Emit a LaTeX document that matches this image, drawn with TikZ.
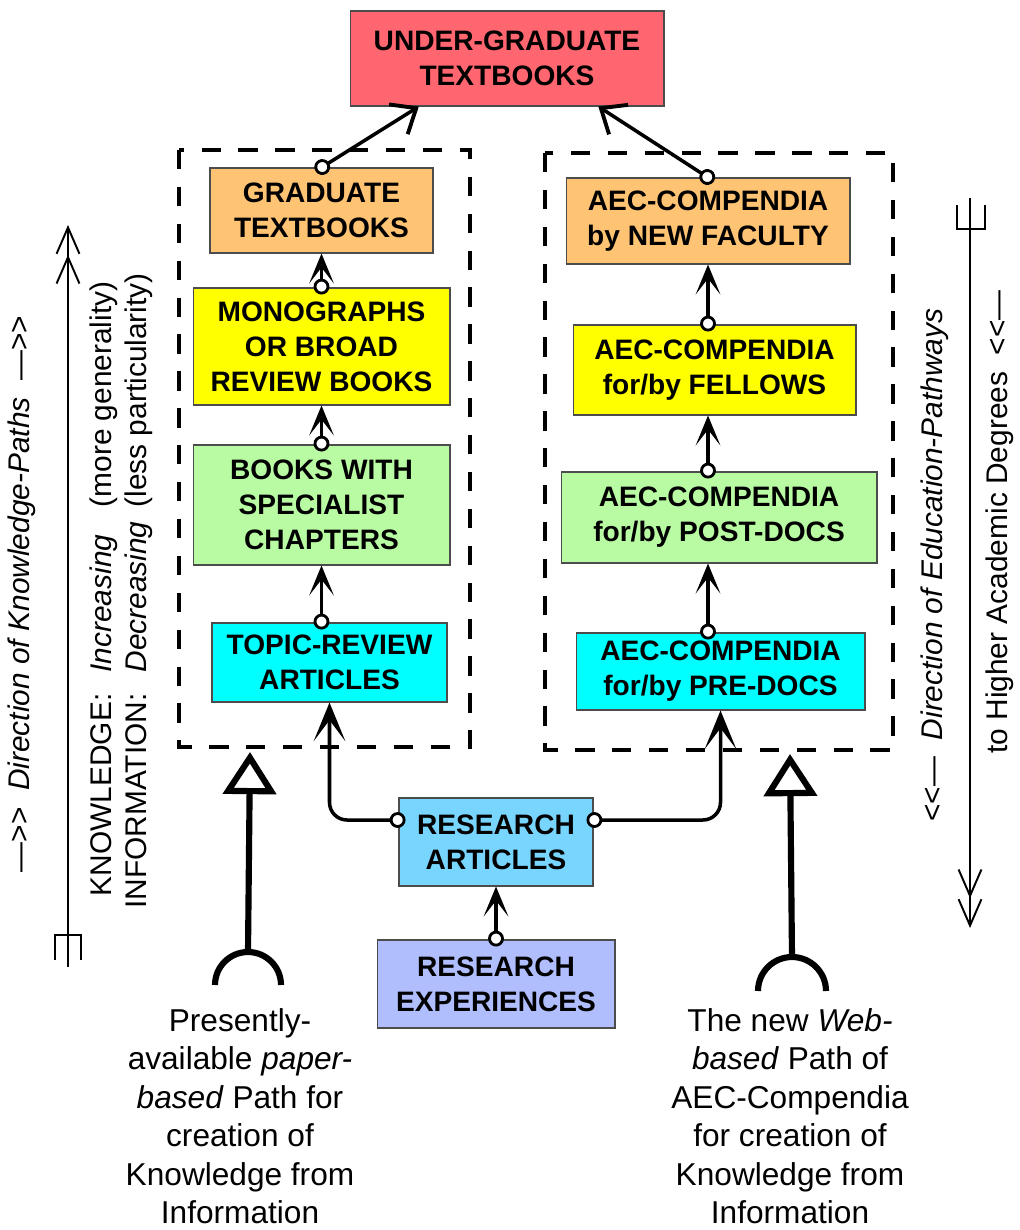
\documentclass[tikz,border=0pt]{standalone}
\usepackage{fontspec}
\setmainfont{Liberation Sans}
\usetikzlibrary{arrows.meta,calc}
\definecolor{ugred}{HTML}{FF6670}
\definecolor{gradorange}{HTML}{FFC374}
\definecolor{monoyellow}{HTML}{FFFF00}
\definecolor{specgreen}{HTML}{B9FBA2}
\definecolor{topiccyan}{HTML}{00FFFF}
\definecolor{articleblue}{HTML}{78D5FE}
\definecolor{experlilac}{HTML}{B0BEFE}
\tikzset{ring/.tip = {Circle[open, fill=white, length=9pt, width=9pt, line width=1.6pt]}}

\begin{document}
\begin{tikzpicture}[x=0.02cm, y=-0.02cm,
    box/.style = {draw=black!70, line width=0.6pt, align=center, inner sep=0pt,
      font=\fontsize{16}{20}\selectfont\bfseries},
    link/.style = {line width=2pt, shorten <=-4pt,
      ring-{Stealth[length=17pt, width=14pt, inset=9pt]}},
    uplink/.style = {line width=2pt, shorten <=-4pt,
      ring-{Straight Barb[length=12pt, width=20pt, line width=2.2pt]}},
    biglink/.style = {line width=2pt, shorten <=-4pt, rounded corners=10,
      ring-{Stealth[length=22pt, width=18pt, inset=12pt]}},
    frame/.style = {line width=2.3pt, dash pattern=on 11pt off 10pt},
    feed/.style = {line width=3.5pt, -{Triangle[open, length=24pt, width=30pt]}},
    socket/.style = {line width=3.5pt},
    axis/.style = {line width=1.1pt},
    twobarb/.style = {-{Straight Barb[length=15pt, width=13pt] Straight Barb[length=15pt, width=13pt]}},
    side/.style = {font=\fontsize{17}{20}\selectfont, inner sep=0pt},
    caption/.style = {font=\fontsize{18}{21.9}\selectfont, align=center, inner sep=0pt}]
  \useasboundingbox (0,0) rectangle (1019,1230);

  \draw[frame] (179,150) rectangle (470,747);
  \draw[frame] (545,153) rectangle (893,750);

  \node[box, fill=ugred, minimum width=6.28cm, minimum height=1.90cm] (ug) at (507,58.5) {UNDER-GRADUATE\\TEXTBOOKS};
  \node[box, fill=gradorange, minimum width=4.46cm, minimum height=1.70cm] (grad) at (321.5,210.5) {GRADUATE\\TEXTBOOKS};
  \node[box, fill=monoyellow, minimum width=5.14cm, minimum height=2.34cm] (mono) at (321.5,346.5) {MONOGRAPHS\\OR BROAD\\REVIEW BOOKS};
  \node[box, fill=specgreen, minimum width=5.14cm, minimum height=2.40cm] (spec) at (321.5,505) {BOOKS WITH\\SPECIALIST\\CHAPTERS};
  \node[box, fill=topiccyan, minimum width=4.70cm, minimum height=1.58cm] (topic) at (329.5,662.5) {TOPIC-REVIEW\\ARTICLES};
  \node[box, fill=gradorange, minimum width=5.68cm, minimum height=1.72cm] (newfac) at (708,221) {AEC-COMPENDIA\\by NEW FACULTY};
  \node[box, fill=monoyellow, minimum width=5.66cm, minimum height=1.80cm] (fellows) at (714.5,370) {AEC-COMPENDIA\\for/by FELLOWS};
  \node[box, fill=specgreen, minimum width=6.32cm, minimum height=1.82cm] (postdoc) at (719,517.5) {AEC-COMPENDIA\\for/by POST-DOCS};
  \node[box, fill=topiccyan, minimum width=5.78cm, minimum height=1.54cm] (predoc) at (720.5,671.5) {AEC-COMPENDIA\\for/by PRE-DOCS};
  \node[box, fill=articleblue, minimum width=3.88cm, minimum height=1.76cm] (resart) at (496,842) {RESEARCH\\ARTICLES};
  \node[box, fill=experlilac, minimum width=4.76cm, minimum height=1.76cm] (resexp) at (496,984) {RESEARCH\\EXPERIENCES};

  \draw[uplink] (grad.north) -- ($(ug.south west)!0.22!(ug.south east)$);
  \draw[uplink] (newfac.north) -- ($(ug.south west)!0.79!(ug.south east)$);
  \draw[link] (mono.north) -- (grad.south);
  \draw[link] (spec.north) -- (mono.south);
  \draw[link] (spec.south |- topic.north) -- (spec.south);
  \draw[link] (newfac.south |- fellows.north) -- (newfac.south);
  \draw[link] (newfac.south |- postdoc.north) -- (newfac.south |- fellows.south);
  \draw[link] (newfac.south |- predoc.north) -- (newfac.south |- postdoc.south);
  \draw[biglink] ($(resart.west)+(0,-22)$) -| (topic.south);
  \draw[biglink] ($(resart.east)+(0,-22)$) -| (predoc.south);
  \draw[link] (resexp.north) -- (resart.south);

  \coordinate (lsock) at (248,952);
  \coordinate (ltip) at (250,752);
  \coordinate (rsock) at (792,957);
  \coordinate (rtip) at (790,754);
  \draw[feed] (lsock) -- (ltip);
  \draw[feed] (rsock) -- (rtip);
  \draw[socket] (lsock) ++(-33,33) arc[start angle=180, end angle=360, radius=33];
  \draw[socket] (rsock) ++(-34,34) arc[start angle=180, end angle=360, radius=34];

  \coordinate (kbot) at (68,967);
  \coordinate (ktop) at (68,225);
  \coordinate (etop) at (970,198);
  \coordinate (ebot) at (970,928);
  \draw[axis, twobarb] (kbot) -- (ktop);
  \draw[axis] (55,960) -- (55,935) -- (81,935) -- (81,960);
  \draw[axis, twobarb] (etop) -- (ebot);
  \draw[axis] (957,205) -- (957,229) -- (985,229) -- (985,205);

  \node[side, rotate=90] (kpath) at (22,594) {—>\kern0pt>\ \ \textit{Direction of Knowledge-Paths}\ \ —>\kern0pt>};
  \node[side, rotate=90] (kinfo) at (122,591) {\begin{tabular}{@{}r@{\hspace{12pt}}l@{\hspace{8pt}}l@{}}
    KNOWLEDGE: & \textit{Increasing} & (more generality)\\
    INFORMATION: & \textit{Decreasing} & (less particularity)
  \end{tabular}};
  \node[side, rotate=90] (edpath) at (935,565) {<\kern0pt<—\ \ \textit{Direction of Education-Pathways}};
  \node[side, rotate=90] (degrees) at (1000,522) {to Higher Academic Degrees\ \ <\kern0pt<—};

  \node[caption, anchor=north] (paper) at (240,1008) {Presently-\\available \textit{paper-}\\\textit{based} Path for\\creation of\\Knowledge from\\Information};
  \node[caption, anchor=north] (web) at (790,1008) {The new \textit{Web-}\\\textit{based} Path of\\AEC-Compendia\\for creation of\\Knowledge from\\Information};
\end{tikzpicture}
\end{document}
